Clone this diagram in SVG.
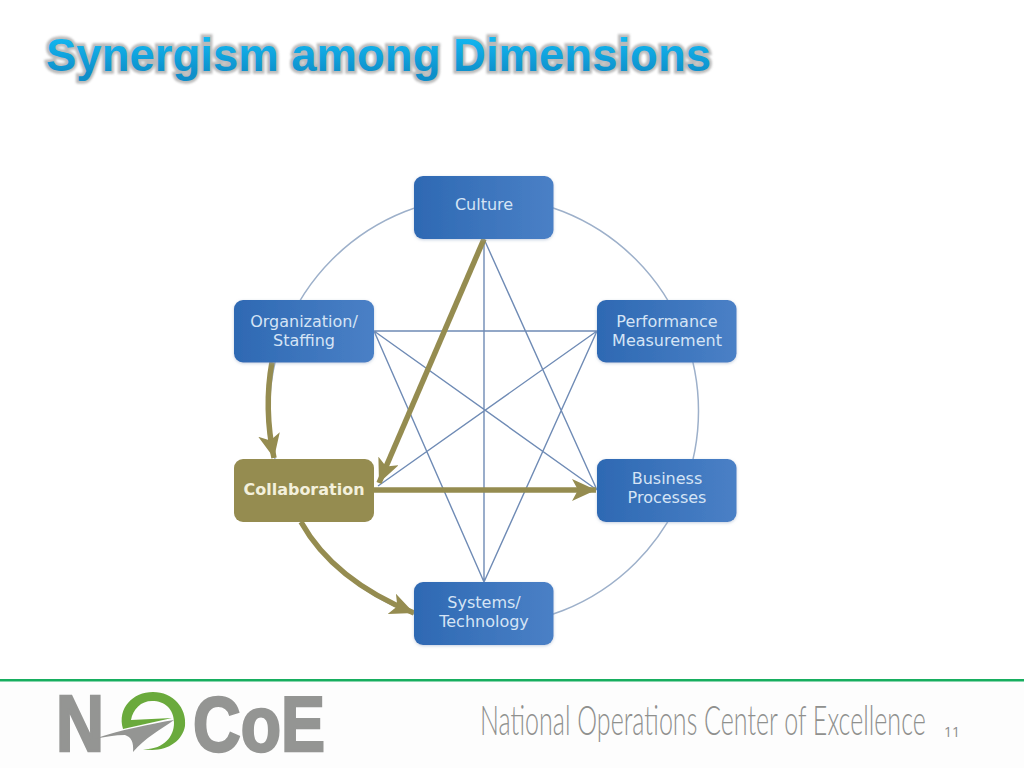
<svg xmlns="http://www.w3.org/2000/svg" width="1024" height="768" viewBox="0 0 1024 768">
<style>
.thin{fill:none;stroke:#6f8bb5;stroke-width:1.4}
.ring{fill:none;stroke:#9db0ca;stroke-width:1.5}
.thick{fill:none;stroke:#958c50;stroke-width:5.500}
.box{fill:url(#blue)}
.lbl{font-family:"DejaVu Sans",sans-serif;font-size:16px;fill:#d5e4f5;text-anchor:middle}
.logo{font-family:"Liberation Sans",Arial,sans-serif;font-weight:700;fill:#949593;stroke:#949593;stroke-width:2.500}
</style>
<defs>
<linearGradient id="blue" x1="0" y1="0" x2="1" y2="0"><stop offset="0" stop-color="#2e69b3"/><stop offset="1" stop-color="#4a80c6"/></linearGradient>
<linearGradient id="tg" x1="0" y1="0" x2="0" y2="1"><stop offset="0.15" stop-color="#12b8f2"/><stop offset="0.85" stop-color="#0e8fca"/></linearGradient>
<filter id="halo" x="-5%" y="-30%" width="110%" height="160%"><feGaussianBlur stdDeviation="1"/></filter>
<filter id="soft" x="-10%" y="-10%" width="120%" height="125%"><feDropShadow dx="0" dy="1" stdDeviation="1.5" flood-color="#8aa0c0" flood-opacity="0.5"/></filter>
<marker id="ah" markerUnits="userSpaceOnUse" markerWidth="26" markerHeight="22" refX="24" refY="11" orient="auto"><path d="M0 0L24 11L0 22L6 11Z" fill="#958c50"/></marker>
</defs>
<rect width="1024" height="768" fill="#fff"/>
<rect x="0" y="682" width="1024" height="86" fill="#fdfdfd"/>
<g id="title">
<text x="46" y="71" font-family="'Liberation Sans',Arial,sans-serif" font-weight="700" font-size="46.5" stroke="#aaaaaa" stroke-width="5.500" fill="#aaaaaa" opacity="0.8" filter="url(#halo)" textLength="665" lengthAdjust="spacingAndGlyphs">Synergism among Dimensions</text>
<text id="title-text" x="46" y="71" font-family="'Liberation Sans',Arial,sans-serif" font-weight="700" font-size="46.5" fill="url(#tg)" textLength="665" lengthAdjust="spacingAndGlyphs">Synergism among Dimensions</text>
</g>
<g id="connectors">
<circle class="ring" cx="484" cy="411" r="214.5"/>
<path class="thin" d="M484 239V582M484 239L597 490M374 331H597M374 331L597 490M374 331L484 582M597 331L378 486M597 331L484 582"/>
<path class="thick" d="M484 239L379 483" marker-end="url(#ah)"/>
<path class="thick" d="M374 490H596" marker-end="url(#ah)"/>
<path class="thick" d="M272 362C266 395 267 425 274 458" marker-end="url(#ah)"/>
<path class="thick" d="M301 522C325 565 365 593 414 613" marker-end="url(#ah)"/>
</g>
<g id="culture"><rect class="box" filter="url(#soft)" x="414" y="176" width="139.500" height="63" rx="9"/><text class="lbl" x="484" y="210">Culture</text></g>
<g id="organization"><rect class="box" filter="url(#soft)" x="234" y="300" width="140" height="62.500" rx="9"/><text class="lbl" x="304" y="327">Organization/</text><text class="lbl" x="304" y="346">Staffing</text></g>
<g id="performance"><rect class="box" filter="url(#soft)" x="597" y="300" width="139.500" height="62.500" rx="9"/><text class="lbl" x="667" y="327">Performance</text><text class="lbl" x="667" y="346">Measurement</text></g>
<g id="business"><rect class="box" filter="url(#soft)" x="597" y="459" width="139.500" height="63" rx="9"/><text class="lbl" x="667" y="484">Business</text><text class="lbl" x="667" y="503">Processes</text></g>
<g id="collaboration"><rect x="234" y="459" width="140" height="63" rx="9" fill="#958c50"/><text class="lbl" x="304" y="495" font-weight="700" style="fill:#f3f0dc">Collaboration</text></g>
<g id="systems"><rect class="box" filter="url(#soft)" x="414" y="582" width="139.500" height="63" rx="9"/><text class="lbl" x="484" y="608">Systems/</text><text class="lbl" x="484" y="627">Technology</text></g>
<g id="footer">
<rect x="0" y="679" width="1024" height="2.500" fill="#17ae5f"/>
<text class="logo" x="56" y="751" font-size="79" textLength="48" lengthAdjust="spacingAndGlyphs">N</text>
<path d="M123 729C117 708 133 692 153 692C173 692 187 708 185 726C182 743 164 753 143 749C163 750 174 737 174 723C174 709 165 701 152 701C141 701 133 709 131 720L172 718L123 729Z" fill="#6aaa3c"/>
<path d="M94 739C120 730 150 724 174 720C160 730 145 738 133 752C134 742 131 737 125 735C115 735 105 737 94 739Z" fill="#949593"/>
<text class="logo" x="193" y="751" font-size="78" textLength="132" lengthAdjust="spacingAndGlyphs">CoE</text>
<text transform="translate(480 735) scale(0.6 1)" font-family="Lato,'Open Sans',sans-serif" font-weight="300" font-size="41" fill="#8f908e" textLength="743" lengthAdjust="spacingAndGlyphs">National Operations Center of Excellence</text>
<text x="944" y="737" font-family="'Open Sans','Liberation Sans',sans-serif" font-size="14" fill="#8c8c8c">11</text>
</g>
</svg>
